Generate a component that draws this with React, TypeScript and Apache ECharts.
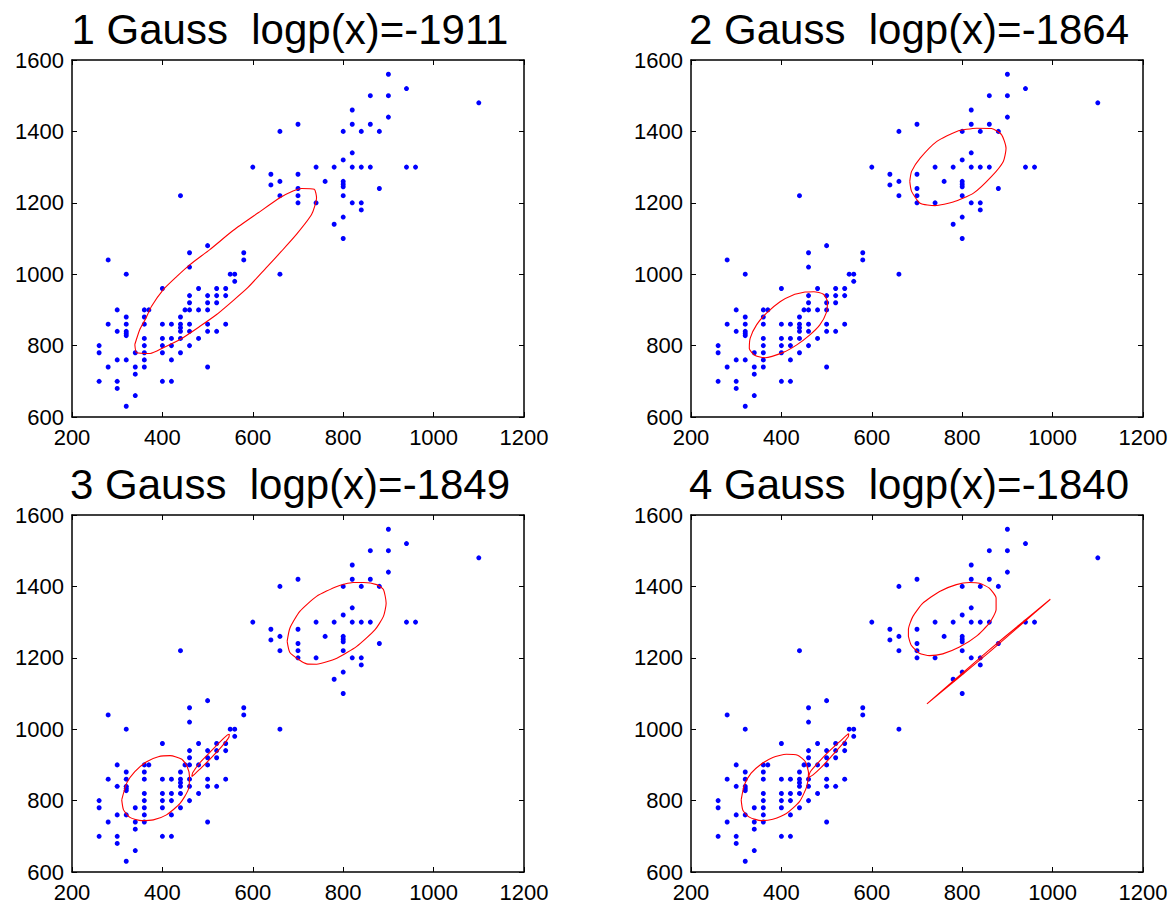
import React, { useEffect, useRef } from "react";
import * as echarts from "echarts";

// Data points (same in all four panels)
const lowerCluster: [number, number][] = [
  [280, 1040], [320, 1000], [500, 1080], [460, 1060], [460, 1020], [580, 1060], [580, 1040],
  [550, 1000], [560, 1000], [560, 980], [660, 1000],
  [400, 960], [480, 960], [520, 960], [540, 960],
  [460, 940], [500, 940], [520, 940], [540, 940],
  [460, 920], [500, 920], [520, 920],
  [300, 900], [360, 900], [370, 900], [450, 900], [460, 900], [480, 900], [500, 900],
  [320, 880], [360, 880], [440, 880],
  [280, 860], [320, 860], [360, 860], [400, 860], [420, 860], [440, 860], [460, 860], [500, 860], [540, 860],
  [300, 840], [320, 840], [320, 834], [320, 828], [440, 850], [440, 840], [460, 840], [500, 840], [520, 840],
  [360, 820], [400, 820], [420, 820], [440, 820], [480, 820],
  [260, 800], [360, 800], [400, 800], [420, 800], [460, 800],
  [260, 780], [340, 780], [360, 780], [400, 780], [440, 780],
  [300, 760], [320, 760], [360, 760], [420, 760],
  [280, 740], [340, 740], [360, 740], [500, 740],
  [340, 720],
  [260, 700], [300, 700], [400, 700], [420, 700],
  [300, 680], [340, 660], [320, 630],
];

const upperCluster: [number, number][] = [
  [900, 1560], [940, 1520], [860, 1500], [900, 1500], [1100, 1480], [820, 1460], [900, 1440],
  [700, 1420], [820, 1420], [860, 1420],
  [660, 1400], [800, 1400], [840, 1400], [880, 1400],
  [820, 1340], [800, 1320],
  [600, 1300], [740, 1300], [780, 1300], [820, 1300], [840, 1300], [860, 1300], [940, 1300], [960, 1300],
  [640, 1280], [700, 1280],
  [640, 1250], [660, 1260], [760, 1260], [800, 1260], [800, 1252], [800, 1245],
  [700, 1240], [880, 1240],
  [440, 1220], [660, 1220], [700, 1220], [800, 1220],
  [700, 1200], [740, 1200], [820, 1200], [840, 1200],
  [840, 1180], [800, 1160], [780, 1140], [800, 1100],
];

// Ellipse outlines
const ellipse1: [number, number][] = [
  [339, 803], [350, 845], [362, 873], [376, 910], [402, 957], [432, 994], [461, 1027], [505, 1069],
  [557, 1123], [612, 1172], [660, 1214], [689, 1233], [708, 1240], [736, 1238], [741, 1214],
  [730, 1167], [697, 1112], [664, 1065], [631, 1020], [587, 960], [550, 919], [520, 887],
  [483, 854], [439, 817], [402, 794], [373, 778], [343, 780], [339, 803],
];

const ellipse2a: [number, number][] = [
  [452, 950], [472, 951], [493, 944], [502, 923], [499, 891], [485, 858], [463, 830], [434, 802],
  [404, 781], [364, 766], [342, 772], [329, 792], [331, 821], [345, 858], [367, 891], [397, 923],
  [426, 942], [452, 950],
];

const ellipse2b: [number, number][] = [
  [684, 1260], [688, 1232], [707, 1199], [740, 1192], [780, 1202], [825, 1227], [865, 1274],
  [891, 1316], [897, 1353], [887, 1391], [865, 1408], [832, 1409], [788, 1400], [744, 1372],
  [707, 1325], [688, 1288], [684, 1260],
];

const ellipse3a: [number, number][] = [
  [310, 802], [314, 774], [328, 753], [354, 744], [380, 746], [409, 760], [439, 792], [457, 830],
  [460, 867], [455, 895], [443, 916], [417, 926], [391, 923], [365, 909], [339, 881], [321, 849],
  [310, 802],
];

const ellipse3b: [number, number][] = [
  [465, 867], [467, 878], [483, 906], [505, 935], [527, 964], [544, 984], [548, 986], [547, 977],
  [531, 951], [509, 921], [487, 893], [472, 875], [465, 867],
];

const ellipse3c: [number, number][] = [
  [676, 1246], [682, 1215], [704, 1193], [719, 1183], [741, 1182], [786, 1199], [830, 1232],
  [870, 1278], [889, 1316], [895, 1353], [889, 1391], [874, 1405], [845, 1411], [822, 1411],
  [786, 1400], [741, 1372], [704, 1330], [682, 1283], [676, 1246],
];

const ellipse4a: [number, number][] = [
  [311, 802], [315, 772], [330, 753], [355, 744], [381, 748], [411, 764], [440, 797], [456, 839],
  [460, 877], [453, 909], [436, 927], [411, 930], [381, 921], [355, 902], [333, 877], [318, 844],
  [311, 802],
];

const ellipse4b: [number, number][] = [
  [460, 865], [464, 881], [481, 906], [503, 935], [529, 965], [547, 986], [549, 987], [548, 979],
  [532, 954], [510, 923], [488, 893], [470, 872], [460, 865],
];

const ellipse4c: [number, number][] = [
  [681, 1260], [687, 1236], [705, 1213], [728, 1206], [757, 1211], [794, 1230], [831, 1260],
  [860, 1297], [875, 1335], [875, 1367], [860, 1395], [838, 1409], [816, 1411], [787, 1405],
  [750, 1386], [713, 1353], [691, 1316], [681, 1279], [681, 1260],
];

const ellipse4d: [number, number][] = [
  [722, 1071], [790, 1146], [858, 1220], [926, 1292], [995, 1364], [926, 1288], [858, 1214],
  [790, 1142], [722, 1071],
];

const panelTitles = [
  "1 Gauss  logp(x)=-1911",
  "2 Gauss  logp(x)=-1864",
  "3 Gauss  logp(x)=-1849",
  "4 Gauss  logp(x)=-1840",
];

const panelEllipses: [number, number][][][] = [
  [ellipse1],
  [ellipse2a, ellipse2b],
  [ellipse3a, ellipse3b, ellipse3c],
  [ellipse4a, ellipse4b, ellipse4c, ellipse4d],
];

const xTicks = { min: 200, max: 1200, interval: 200 };
const yTicks = { min: 600, max: 1600, interval: 200 };

const FONT = "Liberation Sans, Arial, Helvetica, sans-serif";

export default function App() {
  const ref = useRef<HTMLDivElement>(null);

  useEffect(() => {
    if (!ref.current) return;
    const chart = echarts.init(ref.current, undefined, { renderer: "svg" });

    const grids = [
      { left: 72, top: 60, width: 452, height: 357 },
      { left: 691, top: 60, width: 452, height: 357 },
      { left: 72, top: 515, width: 452, height: 357 },
      { left: 691, top: 515, width: 452, height: 357 },
    ];

    const axisLine = { onZero: false, lineStyle: { color: "#000", width: 1.5 } };
    const axisTick = { inside: true, length: 5, lineStyle: { color: "#000", width: 1 } };
    const plain = (v: number) => String(v);

    const xAxis: any[] = [];
    const yAxis: any[] = [];
    const series: any[] = [];
    const graphic: any[] = [];

    grids.forEach((g, i) => {
      xAxis.push({
        gridIndex: i, type: "value", position: "bottom", ...xTicks,
        axisLine, axisTick, splitLine: { show: false },
        axisLabel: { color: "#000", fontSize: 22, fontFamily: FONT, margin: 9, formatter: plain },
      });
      xAxis.push({
        gridIndex: i, type: "value", position: "top", ...xTicks,
        axisLine, axisTick, splitLine: { show: false }, axisLabel: { show: false },
      });
      yAxis.push({
        gridIndex: i, type: "value", position: "left", ...yTicks,
        axisLine, axisTick, splitLine: { show: false },
        axisLabel: { color: "#000", fontSize: 22, fontFamily: FONT, margin: 8, formatter: plain },
      });
      yAxis.push({
        gridIndex: i, type: "value", position: "right", ...yTicks,
        axisLine, axisTick, splitLine: { show: false }, axisLabel: { show: false },
      });

      series.push({
        type: "scatter",
        xAxisIndex: 2 * i,
        yAxisIndex: 2 * i,
        data: [...lowerCluster, ...upperCluster],
        symbol: "circle",
        symbolSize: 5,
        itemStyle: { color: "#0000ff", opacity: 1 },
        z: 2,
        silent: true,
      });

      panelEllipses[i].forEach((e) => {
        series.push({
          type: "line",
          xAxisIndex: 2 * i,
          yAxisIndex: 2 * i,
          data: e,
          showSymbol: false,
          symbol: "none",
          smooth: 0.2,
          lineStyle: { color: "#ff0000", width: 1.1 },
          z: 3,
          silent: true,
        });
      });

      graphic.push({
        type: "text",
        x: g.left + g.width / 2 - 8,
        y: g.top - 31,
        style: {
          text: panelTitles[i],
          fontSize: 42,
          fontFamily: FONT,
          fill: "#000",
          align: "center",
          verticalAlign: "middle",
        },
      });
    });

    chart.setOption({
      animation: false,
      backgroundColor: "#ffffff",
      grid: grids.map((g) => ({ ...g, containLabel: false })),
      xAxis,
      yAxis,
      series,
      graphic,
    });

    return () => chart.dispose();
  }, []);

  return (
    <div
      ref={ref}
      style={{ position: "absolute", left: 0, top: 0, width: 1176, height: 906 }}
    />
  );
}
